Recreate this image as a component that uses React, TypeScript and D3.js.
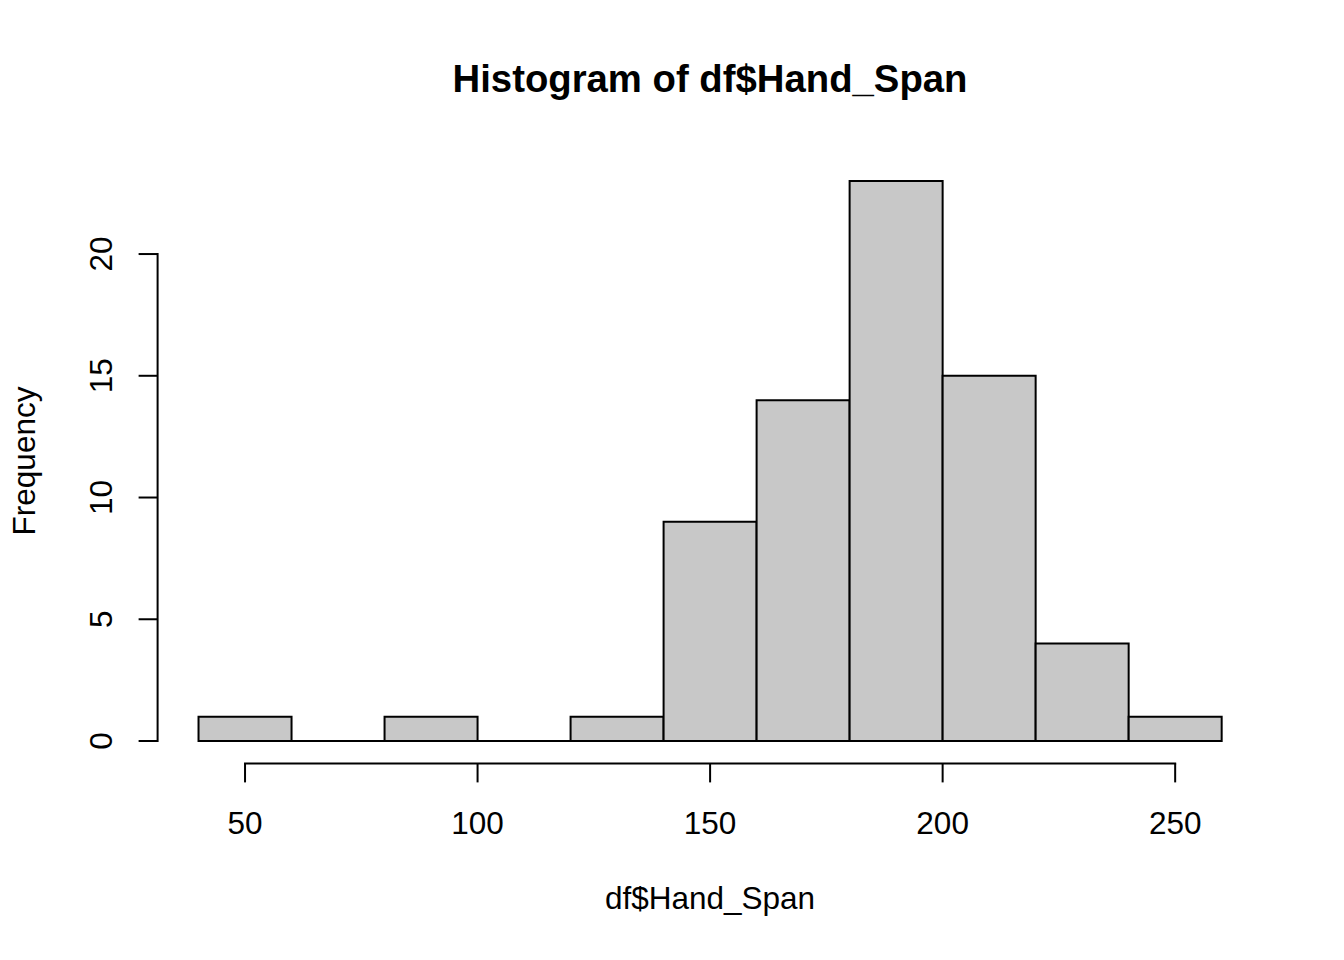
import React from "react";
import * as d3 from "d3";

const breaks = [40, 60, 80, 100, 120, 140, 160, 180, 200, 220, 240, 260];
const counts = [1, 0, 1, 0, 1, 9, 14, 23, 15, 4, 1];
const xTicks = [50, 100, 150, 200, 250];
const yTicks = [0, 5, 10, 15, 20];
const title = "Histogram of df$Hand_Span";
const xLabel = "df$Hand_Span";
const yLabel = "Frequency";

export default function App() {
  const W = 1344;
  const H = 960;
  const xMin = breaks[0];
  const xMax = breaks[breaks.length - 1];
  const yMax = d3.max(counts) as number;
  const xPad = (xMax - xMin) * 0.04;
  const yPad = yMax * 0.04;
  const x = d3.scaleLinear().domain([xMin - xPad, xMax + xPad]).range([157.6, 1262.6]);
  const y = d3.scaleLinear().domain([-yPad, yMax + yPad]).range([763.4, 158.6]);
  const font = "'Liberation Sans', Arial, Helvetica, sans-serif";
  const axisY = y(-yPad);
  const axisX = x(xMin - xPad);
  const tickLen = 19;
  const sw = 2;

  const barPath = (i: number) => {
    const x0 = x(breaks[i]);
    const x1 = x(breaks[i + 1]);
    const y0 = y(0);
    const y1 = y(counts[i]);
    return `M${x0},${y0}V${y1}H${x1}V${y0}Z`;
  };

  return (
    <svg
      width={W}
      height={H}
      style={{ position: "absolute", left: 0, top: 0, background: "#fff" }}
      fontFamily={font}
    >
      <rect x={0} y={0} width={W} height={H} fill="#fff" />
      <text x={710} y={92} textAnchor="middle" fontSize={38.3} fontWeight="bold" fill="#000">
        {title}
      </text>
      {counts.map((c, i) => (
        <path
          key={i}
          d={barPath(i)}
          fill="#c8c8c8"
          stroke="#000"
          strokeWidth={sw}
          strokeLinejoin="miter"
        />
      ))}
      {/* x axis */}
      <line
        x1={x(xTicks[0])}
        x2={x(xTicks[xTicks.length - 1])}
        y1={axisY}
        y2={axisY}
        stroke="#000"
        strokeWidth={sw}
        strokeLinecap="square"
      />
      {xTicks.map((t) => (
        <g key={t}>
          <line x1={x(t)} x2={x(t)} y1={axisY} y2={axisY + tickLen} stroke="#000" strokeWidth={sw} />
          <text x={x(t)} y={834} textAnchor="middle" fontSize={31.5} fill="#000">
            {t}
          </text>
        </g>
      ))}
      {/* y axis */}
      <line
        x1={axisX}
        x2={axisX}
        y1={y(yTicks[0])}
        y2={y(yTicks[yTicks.length - 1])}
        stroke="#000"
        strokeWidth={sw}
        strokeLinecap="square"
      />
      {yTicks.map((t) => (
        <g key={t}>
          <line x1={axisX - tickLen} x2={axisX} y1={y(t)} y2={y(t)} stroke="#000" strokeWidth={sw} />
          <text
            transform={`translate(112,${y(t)}) rotate(-90)`}
            textAnchor="middle"
            fontSize={31.5}
            fill="#000"
          >
            {t}
          </text>
        </g>
      ))}
      <text x={710} y={909} textAnchor="middle" fontSize={31.5} fill="#000">
        {xLabel}
      </text>
      <text
        transform={`translate(35,${(y(-yPad) + y(yMax + yPad)) / 2}) rotate(-90)`}
        textAnchor="middle"
        fontSize={31.5}
        fill="#000"
      >
        {yLabel}
      </text>
    </svg>
  );
}
